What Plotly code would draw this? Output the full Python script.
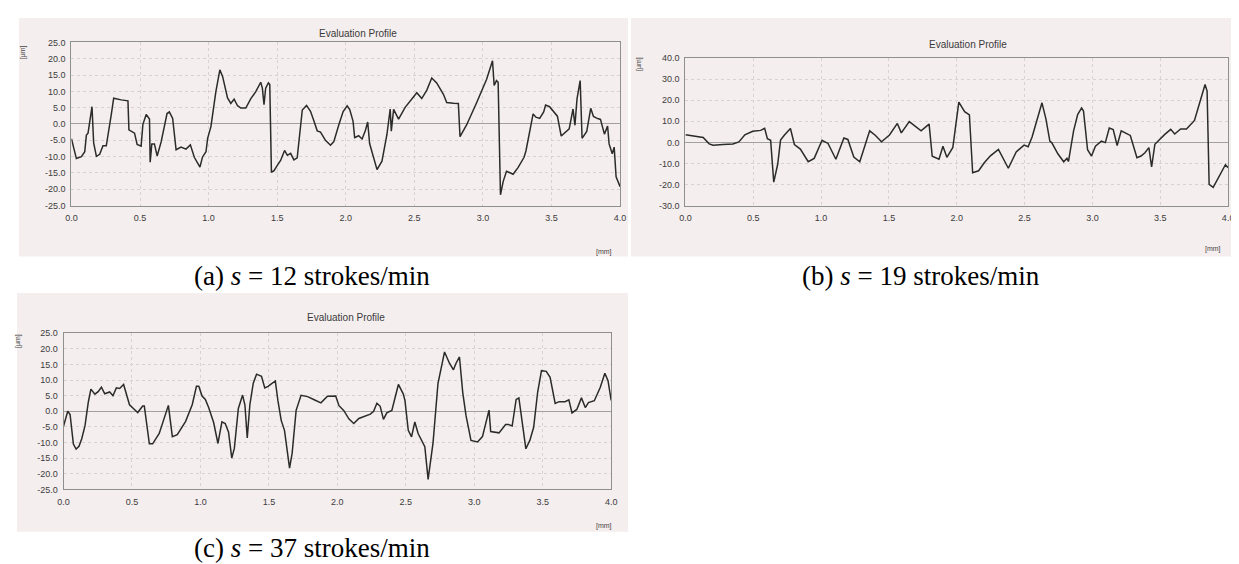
import plotly.graph_objects as go

# ---------------- data ----------------
A_X = [0.0, 0.036, 0.073, 0.097, 0.109, 0.121, 0.150, 0.162, 0.182, 0.206,
       0.230, 0.254, 0.291, 0.308, 0.363, 0.412, 0.419, 0.436, 0.460, 0.479,
       0.508, 0.521, 0.545, 0.569, 0.574, 0.586, 0.605, 0.625, 0.654, 0.697,
       0.714, 0.738, 0.763, 0.799, 0.835, 0.867, 0.896, 0.937, 0.956, 0.981,
       0.993, 1.017, 1.053, 1.082, 1.102, 1.138, 1.162, 1.186, 1.211, 1.235,
       1.271, 1.308, 1.344, 1.380, 1.392, 1.404, 1.416, 1.436, 1.446, 1.458,
       1.477, 1.501, 1.525, 1.554, 1.574, 1.598, 1.622, 1.646, 1.683, 1.714,
       1.743, 1.768, 1.792, 1.816, 1.852, 1.889, 1.913, 1.949, 1.981, 2.010,
       2.029, 2.053, 2.065, 2.094, 2.119, 2.143, 2.160, 2.174, 2.203, 2.228,
       2.264, 2.300, 2.324, 2.332, 2.349, 2.385, 2.433, 2.470, 2.518, 2.554,
       2.591, 2.627, 2.663, 2.712, 2.736, 2.785, 2.821, 2.833, 2.881, 2.954,
       3.027, 3.070, 3.082, 3.099, 3.111, 3.128, 3.148, 3.172, 3.220,
       3.257, 3.300, 3.314, 3.343, 3.366, 3.386, 3.414, 3.443, 3.457, 3.486,
       3.514, 3.543, 3.571, 3.600, 3.629, 3.657, 3.671, 3.686, 3.709, 3.723,
       3.757, 3.786, 3.806, 3.829, 3.857, 3.886, 3.909, 3.920, 3.943, 3.957,
       3.971, 4.000]
A_Y = [-4.5, -10.6, -10.0, -8.5, -3.4, -2.8, 5.3, -5.8, -9.9, -9.3,
       -6.7, -6.7, 3.0, 7.9, 7.4, 7.1, -1.8, -2.3, -2.8, -6.3,
       -6.8, -0.1, 2.9, 1.5, -11.7, -6.1, -6.1, -9.8, -5.5, 3.2,
       3.7, 1.7, -7.9, -7.1, -7.7, -6.4, -10.2, -13.2, -10.1, -8.5,
       -4.4, -0.8, 9.9, 16.6, 14.6, 8.0, 6.3, 7.6, 5.6, 4.9,
       4.9, 7.8, 9.9, 12.8, 11.0, 5.9, 11.0, 12.6, 12.1, -14.8,
       -14.3, -12.7, -11.2, -8.1, -9.6, -9.0, -11.0, -10.4, 4.3, 5.7,
       3.9, 0.9, -2.1, -2.5, -5.0, -6.5, -5.4, -0.3, 3.8, 5.6,
       4.4, 0.9, -4.2, -3.6, -4.6, -2.0, 0.6, -6.0, -10.0, -14.0,
       -11.4, -3.3, 4.6, -2.2, 4.5, 1.5, 5.1, 7.2, 9.6, 7.8,
       10.4, 14.1, 12.6, 9.1, 6.6, 6.4, 6.3, -3.9, -0.3, 6.5,
       13.7, 19.4, 11.8, 13.3, 12.8, -21.7, -17.6, -14.5, -15.4,
       -13.3, -10.2, -8.2, -2.0, 3.1, 2.1, 1.7, 3.7, 5.8, 5.3,
       3.9, 2.4, -3.7, -2.6, -1.5, 4.6, -0.4, 7.7, 13.3, -4.4,
       -2.3, 4.8, 2.3, 1.8, 1.4, -3.1, -0.6, -6.1, -9.1, -7.1,
       -16.2, -19.2]

B_X = [0.0, 0.088, 0.131, 0.175, 0.204, 0.277, 0.350, 0.394, 0.438, 0.496,
       0.555, 0.584, 0.604, 0.628, 0.651, 0.680, 0.701, 0.730, 0.774, 0.803,
       0.847, 0.905, 0.949, 1.007, 1.051, 1.109, 1.168, 1.197, 1.241, 1.285,
       1.358, 1.401, 1.445, 1.504, 1.562, 1.591, 1.650, 1.737, 1.796, 1.819,
       1.869, 1.898, 1.927, 1.971, 2.015, 2.058, 2.093, 2.117, 2.161, 2.204,
       2.248, 2.307, 2.336, 2.380, 2.438, 2.496, 2.526, 2.555, 2.628, 2.657,
       2.686, 2.701, 2.745, 2.788, 2.812, 2.823, 2.861, 2.891, 2.920, 2.934,
       2.964, 2.993, 3.022, 3.066, 3.095, 3.124, 3.153, 3.182, 3.212, 3.255,
       3.279, 3.328, 3.358, 3.387, 3.416, 3.436, 3.460, 3.533, 3.577, 3.606,
       3.650, 3.693, 3.752, 3.780, 3.830, 3.845, 3.860, 3.890, 3.930, 3.980,
       4.000]
B_Y = [3.6, 2.9, 2.3, -0.7, -1.4, -1.0, -0.8, 0.2, 3.6, 5.3,
       5.7, 6.7, 1.7, 1.0, -18.9, -10.4, 1.1, 3.5, 6.6, -1.0,
       -3.2, -9.2, -7.6, 1.0, -0.5, -8.0, 2.1, 1.4, -7.0, -9.2,
       5.5, 3.3, 0.3, 3.5, 9.0, 4.5, 9.9, 5.5, 8.7, -6.6,
       -8.0, -1.8, -7.1, -2.4, 19.1, 14.6, 13.1, -14.4, -13.5, -9.6,
       -6.4, -3.3, -7.0, -12.3, -4.5, -1.3, -2.1, 2.6, 18.8, 11.2,
       0.6, -0.2, -5.4, -9.2, -7.6, -9.1, 5.5, 13.2, 16.4, 14.9,
       -3.5, -6.5, -1.8, 0.6, -0.1, 6.8, 6.1, -1.5, 5.5, 4.0,
       3.3, -7.3, -6.5, -4.9, -2.5, -11.7, -0.9, 3.8, 6.2, 4.0,
       6.4, 6.4, 10.4, 16.6, 27.5, 24.4, -19.9, -21.4, -16.7, -10.6,
       -12.1]

C_X = [0.0, 0.019, 0.031, 0.048, 0.072, 0.092, 0.113, 0.133, 0.157, 0.181,
       0.200, 0.229, 0.253, 0.277, 0.301, 0.337, 0.361, 0.386, 0.410, 0.439,
       0.482, 0.518, 0.542, 0.578, 0.590, 0.627, 0.651, 0.699, 0.735, 0.766,
       0.795, 0.831, 0.892, 0.940, 0.971, 0.988, 1.012, 1.036, 1.060, 1.096,
       1.128, 1.157, 1.181, 1.205, 1.229, 1.248, 1.277, 1.308, 1.325, 1.342,
       1.361, 1.386, 1.410, 1.446, 1.470, 1.494, 1.518, 1.547, 1.566, 1.590,
       1.614, 1.651, 1.670, 1.699, 1.735, 1.783, 1.831, 1.880, 1.928, 1.988,
       2.012, 2.048, 2.084, 2.120, 2.157, 2.193, 2.241, 2.265, 2.289, 2.313,
       2.337, 2.361, 2.398, 2.446, 2.482, 2.494, 2.518, 2.542, 2.566, 2.590,
       2.639, 2.663, 2.699, 2.735, 2.783, 2.819, 2.848, 2.867, 2.892, 2.916,
       2.940, 2.976, 3.024, 3.060, 3.108, 3.120, 3.181, 3.229,
       3.249, 3.277, 3.306, 3.326, 3.349, 3.377, 3.406, 3.434, 3.463, 3.491,
       3.526, 3.554, 3.591, 3.620, 3.663, 3.691, 3.714, 3.749, 3.783, 3.811,
       3.834, 3.877, 3.920, 3.954, 3.977, 4.000]
C_Y = [-4.8, -1.6, 0.0, -1.0, -10.5, -12.1, -11.2, -8.8, -4.6, 2.9,
       7.1, 5.5, 6.3, 7.7, 5.6, 6.2, 5.0, 7.5, 7.3, 8.6,
       2.1, 0.6, -0.4, 1.7, 1.7, -10.4, -10.4, -7.1, -2.3, 1.9,
       -8.1, -7.5, -3.2, 2.1, 8.0, 8.0, 4.9, 3.8, 1.2, -3.5,
       -10.3, -3.4, -3.9, -6.6, -15.0, -11.8, 0.9, 5.2, 2.0, -8.5,
       2.1, 9.0, 11.9, 11.2, 7.5, 8.0, 8.8, 9.7, 3.4, -2.9,
       -6.1, -18.2, -13.4, 0.3, 5.1, 4.7, 3.7, 2.7, 4.8, 4.9,
       1.8, 0.2, -2.4, -3.9, -2.3, -1.7, -0.9, 0.0, 2.6, 1.6,
       -2.6, -0.5, 0.3, 8.6, 5.5, 3.4, -6.1, -8.2, -3.4, -7.1,
       -11.3, -21.8, -10.1, 8.9, 19.0, 15.4, 13.3, 15.4, 17.4, 6.0,
       -1.4, -9.3, -9.8, -8.1, 0.4, -6.5, -6.9, -4.2,
       -4.2, -4.7, 3.8, 4.3, -3.0, -12.0, -9.3, -5.1, 6.1, 13.0,
       12.8, 10.9, 2.5, 3.1, 3.1, 3.7, -0.5, 0.6, 4.3, 1.2,
       2.8, 3.4, 7.6, 12.2, 9.8, 3.5]

X_TICKS = [0.0, 0.5, 1.0, 1.5, 2.0, 2.5, 3.0, 3.5, 4.0]
A_YTICKS = [25.0, 20.0, 15.0, 10.0, 5.0, 0.0, -5.0, -10.0, -15.0, -20.0, -25.0]
B_YTICKS = [40.0, 30.0, 20.0, 10.0, 0.0, -10.0, -20.0, -30.0]
C_YTICKS = [25.0, 20.0, 15.0, 10.0, 5.0, 0.0, -5.0, -10.0, -15.0, -20.0, -25.0]

CAPTIONS = ["(a) <i>s</i> = 12 strokes/min",
            "(b) <i>s</i> = 19 strokes/min",
            "(c) <i>s</i> = 37 strokes/min"]
PANEL_TITLE = "Evaluation Profile"
Y_UNIT = "[µm]"
X_UNIT = "[mm]"

# ---------------- layout geometry (pixels) ----------------
W, H = 1239, 564
SCAN_BG = "#f5eeee"
LINE_COL = "#2b2b2b"
SANS = "Liberation Sans, Arial, sans-serif"
SERIF = "Liberation Serif, Times New Roman, serif"


def fx(px):
    return px / W


def fy(py):
    return 1 - py / H


panels = [
    dict(x=A_X, y=A_Y, yt=A_YTICKS, yr=[-25, 25], box=(58, 612, 30, 196),
         scan=(5, 620, 5, 248), title=(347, 21), yu=(9, 40), xu=(596, 243), cap=(301, 268)),
    dict(x=B_X, y=B_Y, yt=B_YTICKS, yr=[-30, 40], box=(678, 1226, 46, 196),
         scan=(623, 1234, 5, 248), title=(963, 32), yu=(631, 52), xu=(1211, 240), cap=(916, 268)),
    dict(x=C_X, y=C_Y, yt=C_YTICKS, yr=[-25, 25], box=(50, 603, 326, 485),
         scan=(3, 620, 285, 528), title=(335, 310), yu=(4, 334), xu=(596, 522), cap=(301, 545)),
]

fig = go.Figure()
shapes = []
annotations = []

for i, p in enumerate(panels):
    n = "" if i == 0 else str(i + 1)
    l, r, t, b = p["box"]
    fig.add_trace(go.Scatter(x=p["x"], y=p["y"], mode="lines",
                             line=dict(color=LINE_COL, width=1.5),
                             xaxis="x" + n, yaxis="y" + n, showlegend=False,
                             hoverinfo="skip"))
    common = dict(showline=True, mirror=True, linecolor="#8f8f8f", linewidth=1,
                  showgrid=True, gridcolor="#d9d2d2", griddash="dot", gridwidth=1,
                  ticks="", tickfont=dict(family=SANS, size=9, color="#3c3c3c"),
                  fixedrange=True)
    fig.update_layout(**{
        "xaxis" + n: dict(common, domain=[fx(l), fx(r)], range=[0, 4],
                          anchor="y" + n, tickvals=X_TICKS,
                          ticktext=[f"{v:.1f}" for v in X_TICKS],
                          zeroline=False, ticklabelstandoff=4),
        "yaxis" + n: dict(common, domain=[fy(b), fy(t)], range=p["yr"],
                          anchor="x" + n, tickvals=p["yt"],
                          ticktext=[f"{v:.1f}" for v in p["yt"]],
                          zeroline=True, zerolinecolor="#a3a0a0", zerolinewidth=1,
                          ticklabelstandoff=3),
    })
    sl, sr, st, sb = p["scan"]
    shapes.append(dict(type="rect", xref="paper", yref="paper", layer="below",
                       x0=fx(sl), x1=fx(sr), y0=fy(sb), y1=fy(st),
                       fillcolor=SCAN_BG, line=dict(width=0)))
    annotations += [
        dict(text=PANEL_TITLE, x=fx(p["title"][0]), y=fy(p["title"][1]),
             xref="paper", yref="paper", showarrow=False,
             font=dict(family=SANS, size=10, color="#3a3a3a"),
             xanchor="center", yanchor="middle"),
        dict(text=Y_UNIT, x=fx(p["yu"][0]), y=fy(p["yu"][1]), textangle=-90,
             xref="paper", yref="paper", showarrow=False,
             font=dict(family=SANS, size=7, color="#444"),
             xanchor="center", yanchor="middle"),
        dict(text=X_UNIT, x=fx(p["xu"][0]), y=fy(p["xu"][1]),
             xref="paper", yref="paper", showarrow=False,
             font=dict(family=SANS, size=7, color="#444"),
             xanchor="center", yanchor="middle"),
        dict(text=CAPTIONS[i], x=fx(p["cap"][0]), y=fy(p["cap"][1]),
             xref="paper", yref="paper", showarrow=False,
             font=dict(family=SERIF, size=27, color="#000"),
             xanchor="center", yanchor="middle"),
    ]

fig.update_layout(width=W, height=H, margin=dict(l=0, r=0, t=0, b=0),
                  paper_bgcolor="white", plot_bgcolor="rgba(0,0,0,0)",
                  shapes=shapes, annotations=annotations, showlegend=False)

fig.write_html("out.html", config={"displayModeBar": False})
